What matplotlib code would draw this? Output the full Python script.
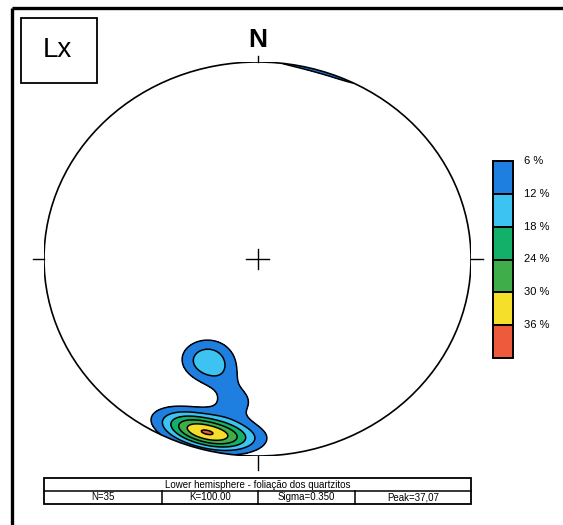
"""
Lower hemisphere equal-area density plot of Lx lineations
"""

import numpy as np
import matplotlib
matplotlib.use('Agg')
import matplotlib.pyplot as plt
from matplotlib.patches import Rectangle, Circle

plt.rcParams['font.family'] = ['Liberation Sans', 'DejaVu Sans']

# lineation measurements (trend, plunge) in degrees
trends = [181, 185, 186, 188, 189, 190, 191, 192, 193, 194,
          195, 196, 197, 198, 199, 200, 201, 203, 202, 204, 208,
          191, 188, 195, 186,
          203, 206, 209, 204, 207, 198, 201,
          75, 320, 20]
plunges = [10, 9, 11, 10, 8, 11, 9, 10, 11, 9,
           10, 8, 11, 9, 10, 12, 9, 10, 10, 6, 5,
           24, 31, 37, 27,
           42, 44, 40, 46, 39, 41, 47,
           35, 62, 80]

# contour classes (percent)
levels = [6, 12, 18, 24, 30, 36]
level_labels = ['6 %', '12 %', '18 %', '24 %', '30 %', '36 %']
level_colors = ['#1f7fe0', '#3cc3f2', '#13b06a', '#3fae4a', '#f5df2a', '#ee5a3c']

kappa = 100.0
plot_label = 'Lx'
footer_title = 'Lower hemisphere - foliação dos quartzitos'
footer_cells = ['N=35', 'K=100.00', 'Sigma=0.350', 'Peak=37,07']


def lvec(trend, plunge):
    """direction cosines (north, east, down) of lines"""
    t = np.deg2rad(trend)
    p = np.deg2rad(plunge)
    return np.stack([np.cos(p) * np.cos(t), np.cos(p) * np.sin(t), np.sin(p)], axis=-1)


def density_grid(trends, plunges, kappa, n=401):
    """fisher kernel density in percent on a schmidt net grid"""
    x = np.linspace(-1.02, 1.02, n)
    X, Y = np.meshgrid(x, x)
    r = np.clip(np.hypot(X, Y), 0, 1)
    colat = 2 * np.arcsin(r / np.sqrt(2))
    plunge = 90 - np.rad2deg(colat)
    trend = np.rad2deg(np.arctan2(X, Y))
    g = lvec(trend, plunge)
    v = lvec(np.array(trends, float), np.array(plunges, float))
    cosang = np.abs(g @ v.T)
    dens = np.exp(kappa * (cosang - 1)).sum(axis=-1) * 100.0 / len(trends)
    return X, Y, dens


X, Y, dens = density_grid(trends, plunges, kappa)

W, H = 563, 525
fig = plt.figure(figsize=(W / 100, H / 100), dpi=100)

# page overlay in pixel coordinates
ax0 = fig.add_axes([0, 0, 1, 1], zorder=0)
ax0.set_xlim(0, W)
ax0.set_ylim(H, 0)
ax0.axis('off')

# outer frame
ax0.plot([12, 12], [H, 8], color='black', lw=2.4, solid_capstyle='butt')
ax0.plot([12, W], [8, 8], color='black', lw=2.4, solid_capstyle='butt')

# label box
ax0.add_patch(Rectangle((21, 18), 76, 65, fill=False, ec='black', lw=1.3))
ax0.text(57, 50, plot_label, fontsize=20, ha='center', va='center')

# legend boxes
bx, by, bw, bh = 493, 161, 20, 197 / 6
for i, (col, lab) in enumerate(zip(level_colors, level_labels)):
    ax0.add_patch(Rectangle((bx, by + i * bh), bw, bh, fc=col, ec='black', lw=1.4))
    ax0.text(524, by + i * bh, lab, fontsize=8, ha='left', va='center')

# footer table
tx0, tx1, ty0, ty1, ty2 = 44, 471, 478, 491, 504
ax0.add_patch(Rectangle((tx0, ty0), tx1 - tx0, ty2 - ty0, fill=False, ec='black', lw=1.3))
ax0.plot([tx0, tx1], [ty1, ty1], color='black', lw=1.1)
cols = [tx0, 162, 258, 355, tx1]
for cx in cols[1:-1]:
    ax0.plot([cx, cx], [ty1, ty2], color='black', lw=1.1)
ax0.text((tx0 + tx1) / 2, (ty0 + ty1) / 2, footer_title, fontsize=7, ha='center', va='center')
for i, txt in enumerate(footer_cells):
    ax0.text((cols[i] + cols[i + 1]) / 2, (ty1 + ty2) / 2, txt, fontsize=7,
             ha='center', va='center')

# stereonet axes: unit circle mapped onto the scanned (slightly squashed) net
ax = fig.add_axes([44 / W, (H - 456) / H, 427 / W, 394 / H], zorder=1)
ax.set_xlim(-1, 1)
ax.set_ylim(-1, 1)
ax.axis('off')
ax.patch.set_alpha(0)

net = Circle((0, 0), 1, transform=ax.transData, fill=False, ec='black', lw=1.2)
cf = ax.contourf(X, Y, dens, levels=levels + [max(dens.max(), 37) + 1], colors=level_colors)
cl = ax.contour(X, Y, dens, levels=levels, colors='black', linewidths=1.1)
cf.set_clip_path(net)
cl.set_clip_path(net)
ax.add_patch(net)

# center cross and cardinal ticks
ax.plot([-0.056, 0.056], [0, 0], color='black', lw=1.0)
ax.plot([0, 0], [-0.05, 0.05], color='black', lw=1.0)
ax.plot([0, 0], [1, 1.03], color='black', lw=1.0, clip_on=False)
ax.plot([0, 0], [-1, -1.07], color='black', lw=1.0, clip_on=False)
ax.plot([-1, -1.052], [0, 0], color='black', lw=1.0, clip_on=False)
ax.plot([1, 1.056], [0, 0], color='black', lw=1.0, clip_on=False)
ax.text(0, 1.11, 'N', fontsize=19, fontweight='bold', ha='center', va='center')

fig.savefig('out.png', dpi=100)
